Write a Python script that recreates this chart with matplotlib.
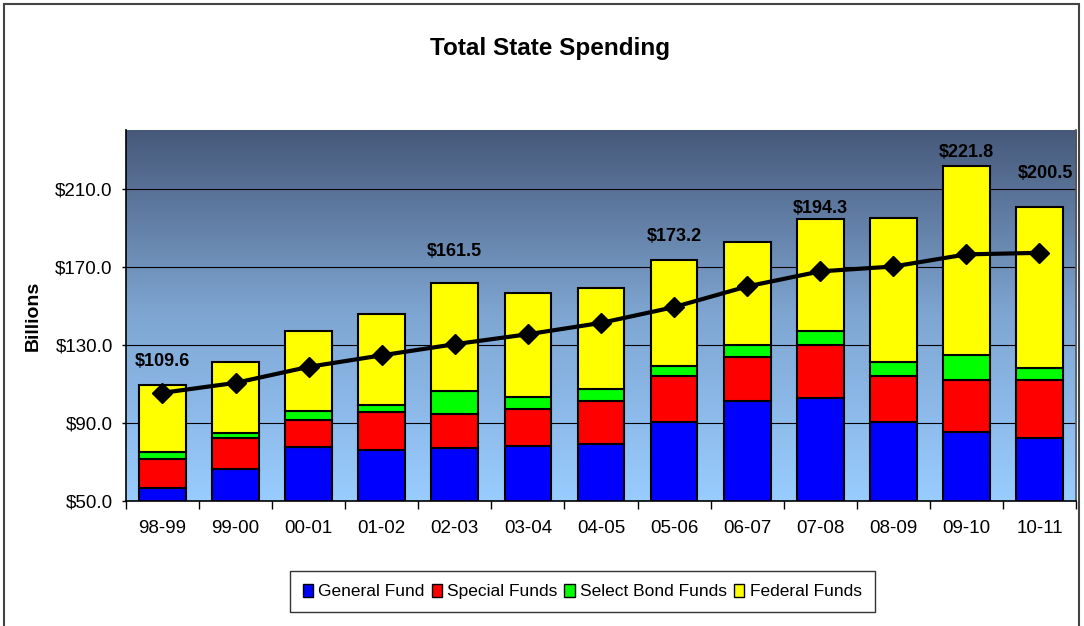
import numpy as np
import matplotlib.pyplot as plt
from matplotlib.colors import LinearSegmentedColormap
from matplotlib.patches import Rectangle, Patch

plt.rcParams['font.family'] = ['Liberation Sans', 'DejaVu Sans']

years = ['98-99', '99-00', '00-01', '01-02', '02-03', '03-04', '04-05',
         '05-06', '06-07', '07-08', '08-09', '09-10', '10-11']
general = [56.8, 66.5, 77.8, 76.1, 76.9, 78.1, 79.1, 90.5, 101.3, 102.5, 90.5, 85.4, 82.4]
special = [14.7, 15.6, 13.6, 19.6, 17.9, 18.9, 22.0, 23.4, 22.2, 27.3, 23.4, 26.5, 29.5]
bond = [3.5, 2.5, 4.8, 3.7, 11.5, 6.3, 6.3, 5.3, 6.6, 7.3, 7.3, 12.7, 6.4]
federal = [34.6, 36.6, 40.9, 46.2, 55.2, 53.2, 51.8, 54.0, 52.5, 57.2, 73.8, 97.2, 82.2]
line_vals = [105.4, 110.5, 118.7, 124.6, 130.3, 135.4, 141.2, 149.3, 159.9, 167.6, 170.1, 176.3, 177.1]
# totals shown as labels
label_idx = [0, 4, 7, 9, 11, 12]
label_txt = ['$109.6', '$161.5', '$173.2', '$194.3', '$221.8', '$200.5']
label_off = [16.5, 23, 17.3, 8, 9.4, 24.5]
label_dx = [0, 0, 0, 0, 0, 4]

fig = plt.figure(figsize=(10.84, 6.26), dpi=100)
ax = fig.add_axes([0.1162, 0.1997, 0.8764, 0.5926])

x = np.arange(len(years))
ax.set_xlim(-0.5, len(years) - 0.5)
ax.set_ylim(50, 240)

# background gradient
cmap = LinearSegmentedColormap.from_list('bg', ['#99ccff', '#7fa6d2', '#46597a'])
grad = np.linspace(0, 1, 256).reshape(-1, 1)
ax.imshow(grad, cmap=cmap, aspect='auto', extent=[0, 1, 0, 1], origin='lower',
          transform=ax.transAxes, zorder=0)

for g in [90, 130, 170, 210]:
    ax.axhline(g, color='black', lw=0.8, zorder=1)

w = 0.64
bottoms = np.zeros(len(years))
series = [(general, '#0000ff', 'General Fund'), (special, '#ff0000', 'Special Funds'),
          (bond, '#00ff00', 'Select Bond Funds'), (federal, '#ffff00', 'Federal Funds')]
for vals, col, name in series:
    ax.bar(x, vals, w, bottom=bottoms, color=col, edgecolor='black', lw=1.5, zorder=2, label=name)
    bottoms = bottoms + np.array(vals)

ax.plot(x, line_vals, color='black', lw=3, marker='D', ms=10, zorder=4)

for i, t, off, dx in zip(label_idx, label_txt, label_off, label_dx):
    ax.annotate(t, (x[i], bottoms[i]), xytext=(dx, off), textcoords='offset points',
                ha='center', va='center', fontsize=13, fontweight='bold', zorder=5)

ax.set_yticks([50, 90, 130, 170, 210])
ax.set_yticklabels(['$50.0', '$90.0', '$130.0', '$170.0', '$210.0'], fontsize=13.5)
ax.set_xticks(x)
ax.set_xticklabels(years, fontsize=13.5)
ax.set_xticks(np.arange(-0.5, len(years)), minor=True)
ax.tick_params(axis='x', which='major', length=0, pad=14)
ax.tick_params(axis='x', which='minor', length=6, width=1)
ax.tick_params(axis='y', length=3, width=1, pad=6.5)
for s in ax.spines.values():
    s.set_linewidth(1.2)
ax.spines['top'].set_visible(False)
ax.spines['right'].set_color('#555555')

ax.set_ylabel('Billions', fontsize=14, fontweight='bold', labelpad=10)
fig.text(0.507, 0.923, 'Total State Spending', ha='center', va='center',
         fontsize=17.5, fontweight='bold')

handles = [Patch(facecolor=c, edgecolor='black', label=n) for _, c, n in series]
leg = fig.legend(handles=handles, loc='center', bbox_to_anchor=(0.537, 0.055), ncol=4,
                 fontsize=12.5, frameon=True, fancybox=False, handlelength=0.6,
                 handleheight=0.8, handletextpad=0.3, columnspacing=0.4,
                 borderpad=0.75, borderaxespad=0, edgecolor='black')
leg.get_frame().set_linewidth(1)

fig.patches.append(Rectangle((0.004, -0.02), 0.991, 1.013, transform=fig.transFigure,
                             fill=False, edgecolor='#444444', lw=1.5))

fig.savefig('out.png', dpi=100)
